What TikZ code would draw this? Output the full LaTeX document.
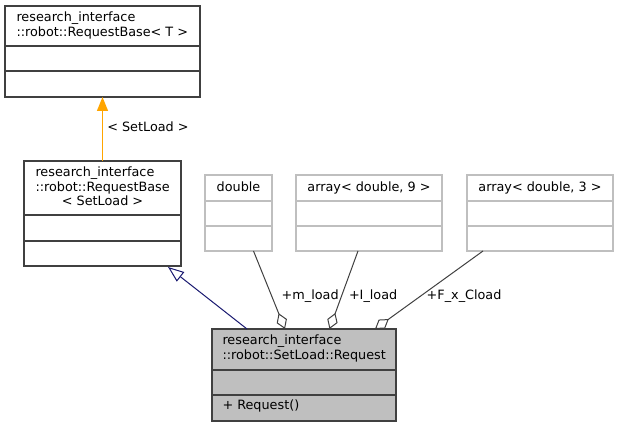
\documentclass[tikz,border=0pt]{standalone}
\usepackage{fontspec}
\setmainfont{DejaVu Sans}
\usetikzlibrary{arrows.meta}
\definecolor{edgegray}{HTML}{404040}
\definecolor{lightborder}{HTML}{BFBFBF}
\definecolor{classfill}{HTML}{BFBFBF}
\definecolor{navyedge}{HTML}{191970}
\definecolor{tmplorange}{HTML}{FFA500}
\begin{document}
\begin{tikzpicture}[x=1pt,y=-1pt,
  every node/.style={font=\fontsize{12.8pt}{14.5pt}\selectfont,inner sep=0pt,outer sep=0pt},
  txt/.style={anchor=base west},
  ctxt/.style={anchor=base},
  docbox/.style={draw=edgegray,line width=1.3pt,fill=white},
  extbox/.style={draw=lightborder,line width=1.2pt,fill=white},
  curbox/.style={draw=edgegray,line width=1.3pt,fill=classfill},
  usage/.style={draw=edgegray,line width=1pt,{Diamond[open,length=17pt,width=11pt]}-},
  inherit/.style={draw=navyedge,line width=1pt,-{Triangle[open,length=16pt,width=12pt]}},
  tmpl/.style={draw=tmplorange,line width=1.2pt,-{Triangle[length=14pt,width=11pt]}}
]
\useasboundingbox (0,0) rectangle (619,427);

% research_interface::robot::RequestBase< T >
\draw[docbox] (5,6) rectangle (200,97);
\draw[edgegray,line width=1.3pt] (5,46) -- (200,46) (5,71) -- (200,71);
\node[txt] (rbT1) at (16.5,22) {research\_interface};
\node[txt] (rbT2) at (16.5,36.7) {::robot::RequestBase< T >};
\coordinate (rbTbot) at (102.5,97);

% research_interface::robot::RequestBase< SetLoad >
\draw[docbox] (24,161) rectangle (181,266);
\draw[edgegray,line width=1.3pt] (24,215) -- (181,215) (24,241) -- (181,241);
\node[txt] (rbS1) at (35.5,176.7) {research\_interface};
\node[txt] (rbS2) at (35.5,191.7) {::robot::RequestBase};
\node[ctxt] (rbS3) at (102.5,205.7) {< SetLoad >};
\coordinate (rbStop) at (102.5,161);
\coordinate (rbSbot) at (168,267);

% double
\draw[extbox] (205,175) rectangle (272,251);
\draw[lightborder,line width=1.2pt] (205,201) -- (272,201) (205,226) -- (272,226);
\node[ctxt] (dbl) at (238.5,191.7) {double};
\coordinate (dblbot) at (253.5,251);

% array< double, 9 >
\draw[extbox] (296,175) rectangle (442,251);
\draw[lightborder,line width=1.2pt] (296,201) -- (442,201) (296,226) -- (442,226);
\node[ctxt] (arr9) at (369,191.7) {array< double, 9 >};
\coordinate (arr9bot) at (358,251);

% array< double, 3 >
\draw[extbox] (467,175) rectangle (613,251);
\draw[lightborder,line width=1.2pt] (467,201) -- (613,201) (467,226) -- (613,226);
\node[ctxt] (arr3) at (540,191.7) {array< double, 3 >};
\coordinate (arr3bot) at (483,251);

% research_interface::robot::SetLoad::Request
\draw[curbox] (212,329) rectangle (396,421);
\draw[edgegray,line width=1.3pt] (212,370) -- (396,370) (212,395) -- (396,395);
\node[txt] (req1) at (222.5,345) {research\_interface};
\node[txt] (req2) at (222.5,360) {::robot::SetLoad::Request};
\node[txt] (req3) at (222.5,410) {+ Request()};
\coordinate (reqA) at (247,329);
\coordinate (reqM) at (285,329);
\coordinate (reqI) at (329.5,329);
\coordinate (reqF) at (375,329);

% template instantiation
\draw[tmpl] (rbStop) -- (rbTbot);
\node[txt] (lblT) at (107.3,131.7) {< SetLoad >};

% inheritance
\draw[inherit] (reqA) -- (rbSbot);

% member usage
\draw[usage] (reqM) -- (dblbot);
\draw[usage] (reqI) -- (arr9bot);
\draw[usage] (reqF) -- (arr3bot);
\node[txt] (lblM) at (281.7,300) {+m\_load};
\node[txt] (lblI) at (349,300) {+I\_load};
\node[txt] (lblF) at (426.7,300) {+F\_x\_Cload};
\end{tikzpicture}
\end{document}
